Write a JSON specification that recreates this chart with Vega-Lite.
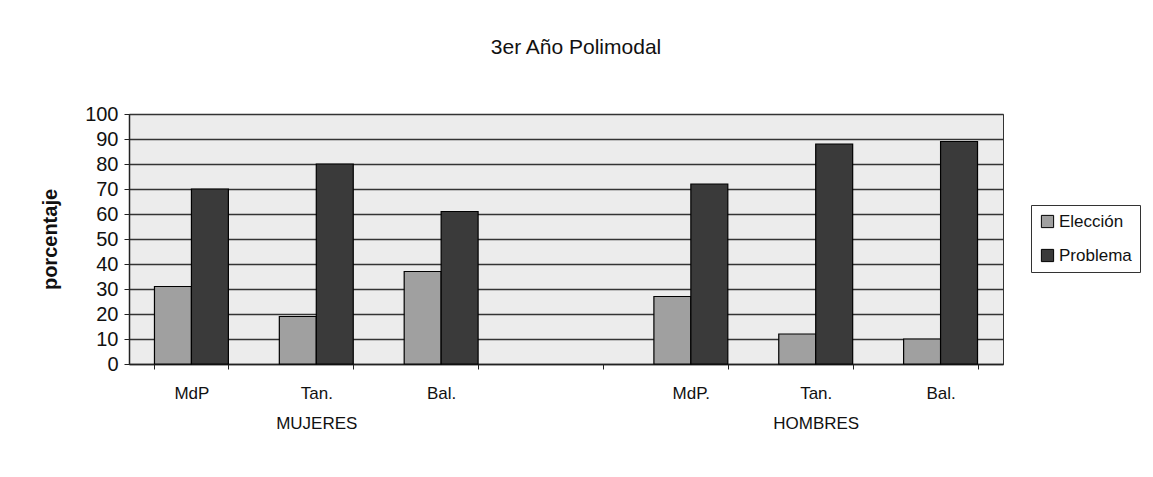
{
  "$schema": "https://vega.github.io/schema/vega-lite/v6.json",
  "width": 874,
  "height": 250,
  "autosize": "none",
  "padding": {"left": 129, "top": 114, "right": 150, "bottom": 113},
  "background": "white",
  "title": {
    "text": "3er Año Polimodal",
    "font": "Liberation Sans, Arial",
    "fontSize": 21,
    "fontWeight": "normal",
    "color": "#111",
    "anchor": "middle",
    "frame": "group",
    "dx": 10,
    "offset": 46
  },
  "data": {
    "values": [
      {"eje": "MdP", "grupo": "MUJERES", "serie": "Elección", "valor": 31},
      {"eje": "MdP", "grupo": "MUJERES", "serie": "Problema", "valor": 70},
      {"eje": "Tan.|MUJERES", "grupo": "MUJERES", "serie": "Elección", "valor": 19},
      {"eje": "Tan.|MUJERES", "grupo": "MUJERES", "serie": "Problema", "valor": 80},
      {"eje": "Bal.", "grupo": "MUJERES", "serie": "Elección", "valor": 37},
      {"eje": "Bal.", "grupo": "MUJERES", "serie": "Problema", "valor": 61},
      {"eje": "MdP.", "grupo": "HOMBRES", "serie": "Elección", "valor": 27},
      {"eje": "MdP.", "grupo": "HOMBRES", "serie": "Problema", "valor": 72},
      {"eje": "Tan.|HOMBRES", "grupo": "HOMBRES", "serie": "Elección", "valor": 12},
      {"eje": "Tan.|HOMBRES", "grupo": "HOMBRES", "serie": "Problema", "valor": 88},
      {"eje": "Bal.|", "grupo": "HOMBRES", "serie": "Elección", "valor": 10},
      {"eje": "Bal.|", "grupo": "HOMBRES", "serie": "Problema", "valor": 89}
    ]
  },
  "mark": {"type": "bar", "stroke": "#000", "strokeWidth": 1.2},
  "encoding": {
    "x": {
      "field": "eje",
      "type": "nominal",
      "scale": {
        "domain": ["MdP", "Tan.|MUJERES", "Bal.", "-", "MdP.", "Tan.|HOMBRES", "Bal.|"],
        "paddingInner": 0.408,
        "paddingOuter": 0.204
      },
      "axis": {
        "title": null,
        "labelAngle": 0,
        "labelExpr": "isValid(datum.value) && datum.value != '-' ? split(datum.value, '|') : ''",
        "labelFont": "Liberation Sans, Arial",
        "labelFontSize": 17,
        "labelColor": "#111",
        "labelPadding": 24,
        "labelLineHeight": 30,
        "labelBaseline": "middle",
        "tickBand": "extent",
        "tickSize": 5,
        "tickColor": "#222",
        "domainColor": "#222",
        "domainWidth": 1.5,
        "grid": false
      }
    },
    "xOffset": {
      "field": "serie",
      "type": "nominal",
      "scale": {"domain": ["Elección", "Problema"], "paddingInner": 0, "paddingOuter": 0}
    },
    "y": {
      "field": "valor",
      "type": "quantitative",
      "scale": {"domain": [0, 100], "nice": false},
      "axis": {
        "title": "porcentaje",
        "titleFont": "Liberation Sans, Arial",
        "titleFontSize": 20,
        "titleFontWeight": "bold",
        "titleColor": "#111",
        "titlePadding": 24,
        "values": [0, 10, 20, 30, 40, 50, 60, 70, 80, 90, 100],
        "labelFont": "Liberation Sans, Arial",
        "labelFontSize": 20,
        "labelColor": "#111",
        "labelPadding": 6,
        "tickSize": 5,
        "tickColor": "#222",
        "domainColor": "#222",
        "domainWidth": 1.5,
        "grid": true,
        "gridColor": "#333",
        "gridWidth": 1.4
      }
    },
    "color": {
      "field": "serie",
      "type": "nominal",
      "scale": {"domain": ["Elección", "Problema"], "range": ["#a0a0a0", "#3a3a3a"]},
      "legend": {
        "title": null,
        "orient": "none",
        "legendX": 902,
        "legendY": 91,
        "symbolType": "square",
        "symbolSize": 150,
        "symbolStrokeColor": "#000",
        "symbolStrokeWidth": 1,
        "labelFont": "Liberation Sans, Arial",
        "labelFontSize": 17,
        "labelColor": "#111",
        "labelOffset": 3,
        "rowPadding": 16,
        "padding": 8,
        "strokeColor": "#333",
        "fillColor": "white"
      }
    }
  },
  "config": {
    "view": {"fill": "#ececec", "stroke": "#333", "strokeWidth": 1}
  }
}
